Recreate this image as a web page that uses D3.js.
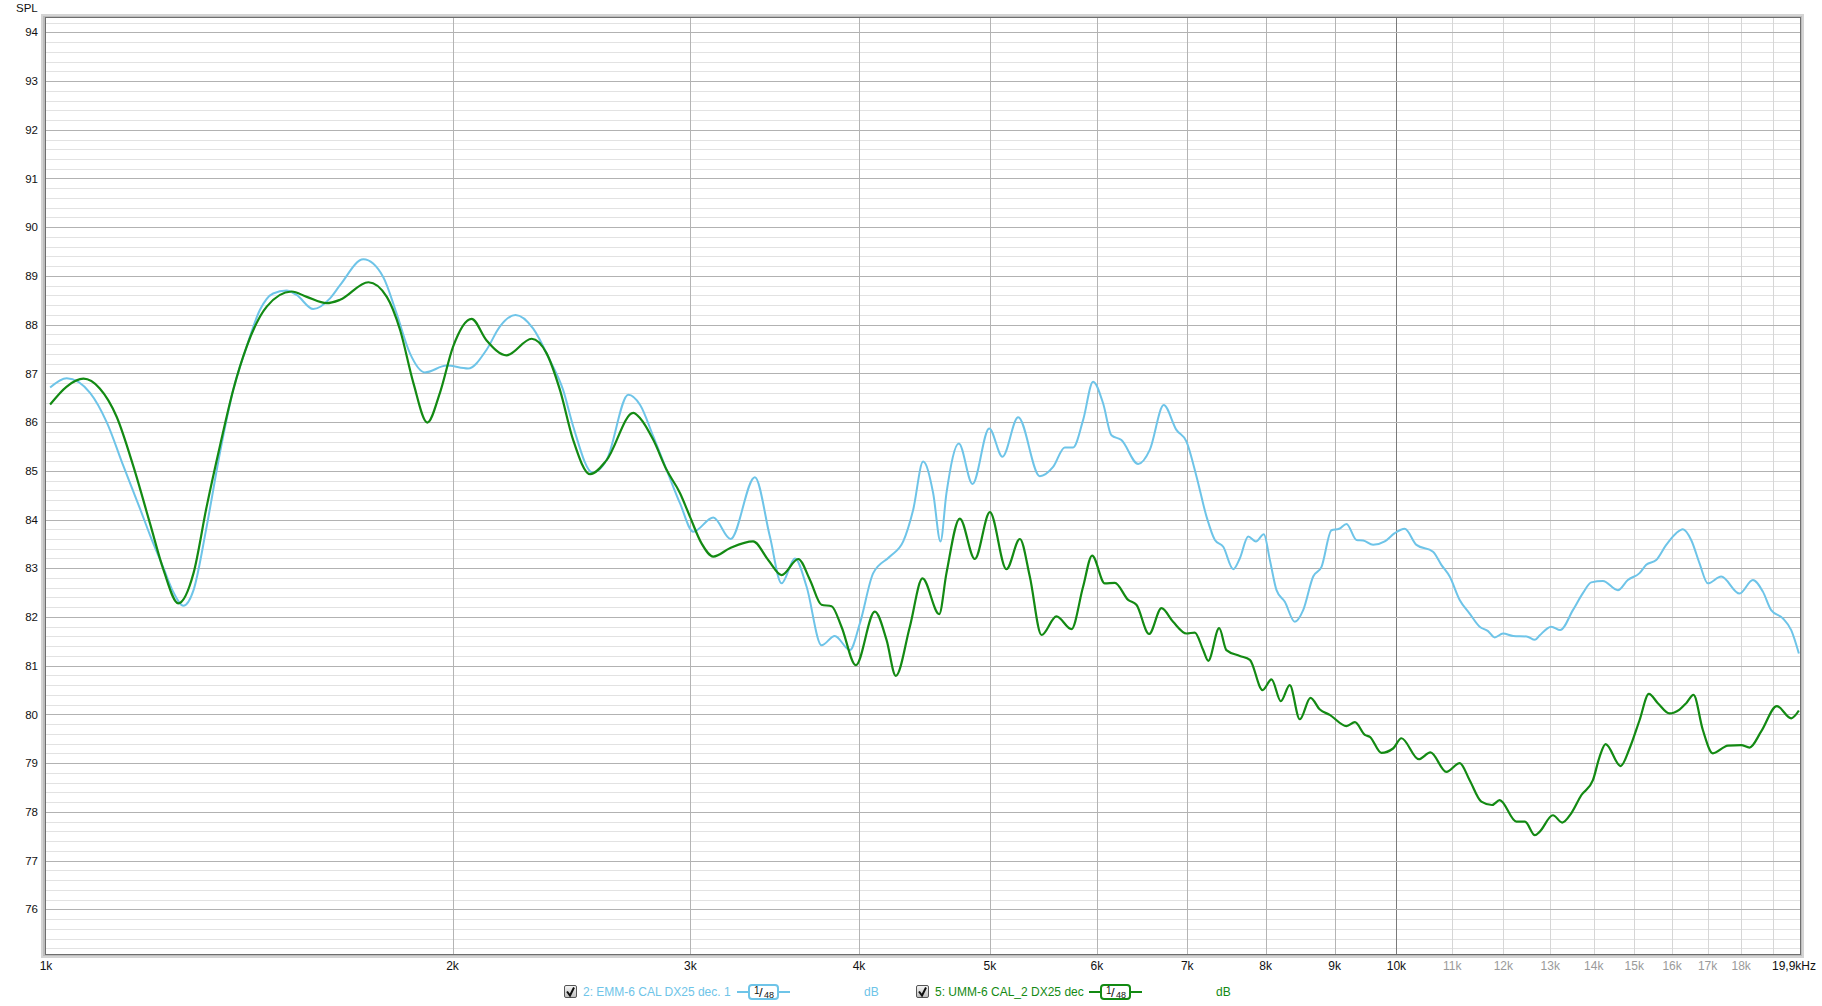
<!DOCTYPE html>
<html><head><meta charset="utf-8">
<script src="https://cdn.jsdelivr.net/npm/d3@7"></script>
<style>
html,body{margin:0;padding:0;background:#fff;}
svg{display:block;font-family:"Liberation Sans",Arial,sans-serif;}
</style></head><body>
<svg id="chart" width="1822" height="1006"></svg>
<script>
// ---- data (frequency in Hz, level in dB SPL) ----
const emmFreq = [1007,1036,1078,1109,1141,1174,1194,1222,1242,1264,1286,1315,1345,1376,1408,1440,1473,1507,1533,1577,1623,
  1651,1718,1777,1818,1860,1908,1980,2054,2119,2168,2227,2295,2361,2415,2457,2540,2601,2699,
  2754,2817,2881,2948,3015,3120,3213,3349,3436,3505,3586,3658,3752,3838,3938,4006,4098,4216,4313,4387,4462,4539,4596,
  4643,4742,4854,4994,5108,5247,5444,5569,5681,5762,5861,5962,6065,6151,6257,6438,6567,6725,6872,6991,7112,7234,7338,7443,7571,
  7656,7767,7869,7977,8059,8151,8267,8409,8530,8677,8801,8952,9070,9184,9342,9449,9610,9803,9971,10142,10347,10644,10796,10951,
  11139,11330,11525,11691,11824,11993,12204,12485,12664,12764,
  13021,13222,13511,13743,13940,14220,14588,14838,15137,15310,15573,15841,16113,16297,16530,16767,17007,17398,17950,18363,18679,18946,19327,19604,19862];
const emmDb = [86.71,86.90,86.60,86.00,85.10,84.22,83.68,83.00,82.52,82.23,82.55,83.85,85.36,86.66,87.55,88.30,88.64,88.70,88.61,88.32,88.54,
  88.81,89.34,88.98,88.23,87.41,87.02,87.16,87.10,87.48,87.96,88.20,87.92,87.27,86.66,85.91,84.96,85.22,86.56,
  86.35,85.70,85.02,84.33,83.75,84.04,83.60,84.87,83.65,82.69,83.20,82.62,81.42,81.61,81.32,81.87,82.90,83.24,83.55,84.20,85.19,84.54,83.55,
  84.54,85.56,84.73,85.87,85.29,86.10,84.89,85.08,85.48,85.48,86.04,86.83,86.38,85.73,85.63,85.14,85.43,86.35,85.84,85.60,84.88,84.06,83.58,83.44,82.98,
  83.20,83.65,83.55,83.70,83.17,82.55,82.31,81.90,82.14,82.83,83.03,83.78,83.81,83.91,83.58,83.57,83.48,83.55,83.72,83.81,83.48,83.34,83.07,82.83,
  82.35,82.07,81.80,81.71,81.58,81.66,81.61,81.60,81.53,81.62,
  81.80,81.73,82.14,82.49,82.71,82.74,82.55,82.76,82.90,83.07,83.17,83.48,83.72,83.80,83.58,83.10,82.69,82.83,82.48,82.76,82.52,82.14,81.97,81.73,81.25];

const ummFreq = [1007,1036,1066,1096,1128,1161,1194,1222,1253,1286,1315,1345,1376,1408,1457,1520,1560,1614,
  1651,1733,1788,1829,1871,1916,1957,2002,2066,2119,2193,2289,2348,2402,2457,2529,2601,2722,
  2754,2817,2881,2948,2998,3058,3120,3209,3339,3426,3505,3606,3679,3752,3817,3882,3978,4109,4192,4259,4362,4457,4586,
  4643,4750,4873,5000,5143,5262,5352,5460,5601,5746,5861,5952,6082,6187,6329,6419,6559,6699,6833,6991,7091,7193,7255,7392,7483,
  7656,7789,7959,8082,8211,8337,8481,8637,8776,8926,9184,9316,9476,9557,9747,9943,10085,10388,10597,10889,11139,11330,11558,11770,11925,12268,12450,12664,
  12764,13058,13267,13473,13705,13980,14140,14285,14655,14881,15137,15379,15617,15930,16205,16390,16596,16862,17152,17597,18001,18259,18626,19130,19604,19862];
const ummDb = [86.36,86.73,86.89,86.69,86.11,85.08,83.92,82.96,82.28,82.90,84.26,85.50,86.66,87.55,88.37,88.68,88.57,88.44,
  88.51,88.87,88.57,87.89,86.80,85.99,86.59,87.55,88.12,87.68,87.37,87.71,87.41,86.66,85.63,84.93,85.22,86.19,
  86.08,85.63,85.02,84.54,84.06,83.51,83.24,83.41,83.55,83.17,82.86,83.19,82.76,82.25,82.22,81.80,81.01,82.11,81.53,80.79,81.80,82.79,82.06,
  82.90,84.02,83.19,84.15,82.98,83.60,82.83,81.63,82.01,81.75,82.62,83.26,82.69,82.70,82.35,82.25,81.65,82.18,81.90,81.66,81.68,81.32,81.10,81.77,81.32,
  81.20,81.12,80.50,80.72,80.27,80.60,79.90,80.34,80.10,79.99,79.76,79.84,79.58,79.54,79.21,79.30,79.51,79.08,79.22,78.82,79.00,78.65,78.21,78.14,78.24,77.80,77.80,77.52,
  77.59,77.93,77.78,77.97,78.34,78.65,79.13,79.39,78.94,79.30,79.88,80.42,80.23,80.02,80.10,80.23,80.40,79.68,79.20,79.36,79.37,79.32,79.65,80.17,79.92,80.08];

const seriesNames = ["2: EMM-6 CAL DX25 dec. 1", "5: UMM-6 CAL_2 DX25 dec"];
const seriesColors = ["#6ec4e8", "#138a13"];
const yTickValues = [76,77,78,79,80,81,82,83,84,85,86,87,88,89,90,91,92,93,94];
const xTickFreqs = [1000,2000,3000,4000,5000,6000,7000,8000,9000,10000,11000,12000,13000,14000,15000,16000,17000,18000];
const xTickLabels = ["1k","2k","3k","4k","5k","6k","7k","8k","9k","10k","11k","12k","13k","14k","15k","16k","17k","18k"];
const endLabel = "19,9kHz";
const axisTitle = "SPL";
const smoothingLabel = ["1", "48"];
const unitLabel = "dB";

// ---- layout ----
const svg = d3.select("#chart");
const L = 46, R = 1800, T = 18, B = 954;
const x = d3.scaleLog().domain([1000, 19900]).range([L, R]);
const y = d3.scaleLinear().domain([75.082, 94.294]).range([B, T]);

// frame shadow
const sh = svg.append("g");
sh.append("rect").attr("x", L-5).attr("y", T-4).attr("width", R-L+9).attr("height", B-T+8).attr("fill", "#d4d4d4");
sh.append("rect").attr("x", L-3).attr("y", T-2).attr("width", R-L+5).attr("height", B-T+4).attr("fill", "#bdbdbd");
svg.append("rect").attr("x", L).attr("y", T).attr("width", R-L).attr("height", B-T).attr("fill", "#fff");

const grid = svg.append("g");
// minor horizontal lines (0.2 dB)
const minorY = d3.range(376, 472).map(v => v / 5).filter(v => v % 1 !== 0);
grid.selectAll(".hm").data(minorY).join("line")
  .attr("x1", L).attr("x2", R).attr("y1", d => Math.round(y(d)) + 0.5).attr("y2", d => Math.round(y(d)) + 0.5)
  .attr("stroke", "#e2e2e2").attr("stroke-width", 1);
// vertical lines
const vFreqs = xTickFreqs.slice(1).concat([19000]);
grid.selectAll(".v").data(vFreqs).join("line")
  .attr("x1", d => Math.round(x(d)) + 0.5).attr("x2", d => Math.round(x(d)) + 0.5).attr("y1", T).attr("y2", B)
  .attr("stroke", d => d === 10000 ? "#7a7a7a" : (d > 10000 ? "#d6d6d6" : "#b4b4b4")).attr("stroke-width", 1);
// major horizontal lines
grid.selectAll(".hM").data(yTickValues).join("line")
  .attr("x1", L).attr("x2", R).attr("y1", d => Math.round(y(d)) + 0.5).attr("y2", d => Math.round(y(d)) + 0.5)
  .attr("stroke", "#b2b2b2").attr("stroke-width", 1);

// curves
svg.append("clipPath").attr("id", "clip").append("rect").attr("x", L).attr("y", T).attr("width", R-L).attr("height", B-T);
const line = d3.line().x(d => x(d[0])).y(d => y(d[1])).curve(d3.curveMonotoneX);
const series = [d3.zip(emmFreq, emmDb), d3.zip(ummFreq, ummDb)];
svg.append("g").attr("clip-path", "url(#clip)").selectAll("path").data(series).join("path")
  .attr("d", line).attr("fill", "none")
  .attr("stroke", (d, i) => seriesColors[i]).attr("stroke-width", (d, i) => i === 0 ? 2 : 2.2)
  .attr("stroke-linejoin", "round");

// frame
svg.append("rect").attr("x", L-0.5).attr("y", T-0.5).attr("width", R-L+1).attr("height", B-T+1)
  .attr("fill", "none").attr("stroke", "#6e6e6e").attr("stroke-width", 1);

// y axis labels
svg.append("g").selectAll("text").data(yTickValues).join("text")
  .attr("x", 38).attr("y", d => y(d)).attr("dy", "0.36em").attr("text-anchor", "end")
  .attr("font-size", 11.5).attr("fill", "#111").text(d => d);
svg.append("text").attr("x", 16).attr("y", 12).attr("font-size", 11.5).attr("fill", "#111").text(axisTitle);

// x axis labels
svg.append("g").selectAll("text").data(xTickFreqs).join("text")
  .attr("x", d => x(d)).attr("y", 970).attr("text-anchor", "middle")
  .attr("font-size", 12).attr("fill", d => d > 10000 ? "#9a9a9a" : "#111")
  .text((d, i) => xTickLabels[i]);
svg.append("text").attr("x", R + 16).attr("y", 970).attr("text-anchor", "end")
  .attr("font-size", 12).attr("fill", "#111").text(endLabel);

// legend
const legendX = [564, 916];
const legendOff = { text: 19, lineStart: 173, boxX: 185, lineEnd: 226, unit: 300 };
const ly = 992;
const defs = svg.append("defs");
const gr = defs.append("linearGradient").attr("id", "cb").attr("x1", 0).attr("y1", 0).attr("x2", 0).attr("y2", 1);
gr.append("stop").attr("offset", "0%").attr("stop-color", "#f6f6f6");
gr.append("stop").attr("offset", "100%").attr("stop-color", "#bdbdbd");
seriesNames.forEach((name, i) => {
  const g = svg.append("g").attr("transform", `translate(${legendX[i]},0)`);
  const c = seriesColors[i];
  g.append("rect").attr("x", 0.5).attr("y", ly - 6.5).attr("width", 12).attr("height", 12).attr("rx", 1.5)
    .attr("fill", "url(#cb)").attr("stroke", "#555");
  g.append("path").attr("d", `M3,${ly-0.5} L6,${ly+3.5} L10,${ly-4.5}`).attr("fill", "none")
    .attr("stroke", "#111").attr("stroke-width", 2);
  g.append("text").attr("x", legendOff.text).attr("y", ly + 4).attr("font-size", 12).attr("fill", c).text(name);
  g.append("line").attr("x1", legendOff.lineStart).attr("x2", legendOff.lineEnd).attr("y1", ly).attr("y2", ly)
    .attr("stroke", c).attr("stroke-width", 2);
  g.append("rect").attr("x", legendOff.boxX).attr("y", ly - 7).attr("width", 29).attr("height", 14).attr("rx", 3)
    .attr("fill", "#fff").attr("stroke", c).attr("stroke-width", 2);
  const t = g.append("text").attr("font-size", 10).attr("fill", "#111");
  t.append("tspan").attr("x", legendOff.boxX + 5).attr("y", ly + 2).text(smoothingLabel[0]);
  t.append("tspan").attr("x", legendOff.boxX + 10).attr("y", ly + 5).attr("font-size", 13).text("/");
  t.append("tspan").attr("x", legendOff.boxX + 15).attr("y", ly + 6).attr("font-size", 9).text(smoothingLabel[1]);
  g.append("text").attr("x", legendOff.unit).attr("y", ly + 4).attr("font-size", 12).attr("fill", c).text(unitLabel);
});
</script>
</body></html>
